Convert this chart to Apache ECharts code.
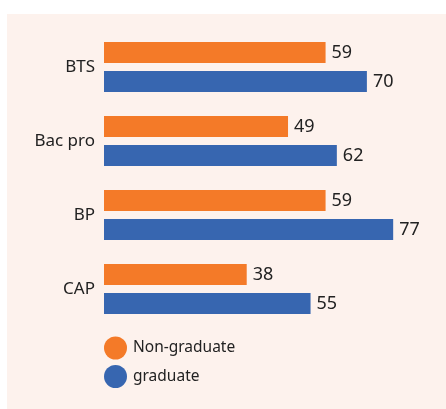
<!DOCTYPE html>
<html><head><meta charset="utf-8">
<script src="https://cdn.jsdelivr.net/npm/echarts@6/dist/echarts.min.js"></script>
<style>html,body{margin:0;padding:0;background:#fff}#c{width:446px;height:409px}</style>
</head><body><div id="c"></div>
<script>
const categories = ["BTS", "Bac pro", "BP", "CAP"];
const nonGraduate = [59, 49, 59, 38];
const graduate = [70, 62, 77, 55];
const seriesNames = ["Non-graduate", "graduate"];

const chart = echarts.init(document.getElementById('c'));
const font = '"Noto Sans", sans-serif';
chart.setOption({
  animation: false,
  backgroundColor: '#ffffff',
  graphic: [{type: 'rect', left: 7, top: 14, shape: {width: 439, height: 395}, style: {fill: '#fdf2ed'}, z: -10}],
  grid: {left: 104, right: 4, top: 30, bottom: 83},
  xAxis: {type: 'value', min: 0, max: 90, show: false},
  yAxis: {type: 'category', data: categories, inverse: true,
    axisLine: {show: false}, axisTick: {show: false},
    axisLabel: {color: '#222', fontSize: 17, fontFamily: font, margin: 9}},
  legend: {orient: 'vertical', left: 104, top: 336.5, padding: 0, itemWidth: 23, itemHeight: 23, itemGap: 5.5,
    icon: 'circle', textStyle: {color: '#222', fontSize: 15.5, fontFamily: font, padding: [0, 0, 0, 1]}, data: seriesNames},
  series: [
    {name: seriesNames[0], type: 'bar', data: nonGraduate, barWidth: 21, barGap: '38%',
     itemStyle: {color: '#f47a28'},
     label: {show: true, position: 'right', distance: 6, color: '#222', fontSize: 18, fontFamily: font}},
    {name: seriesNames[1], type: 'bar', data: graduate, barWidth: 21, barGap: '38%',
     itemStyle: {color: '#3766b0'},
     label: {show: true, position: 'right', distance: 6, color: '#222', fontSize: 18, fontFamily: font}}
  ]
});
</script></body></html>
